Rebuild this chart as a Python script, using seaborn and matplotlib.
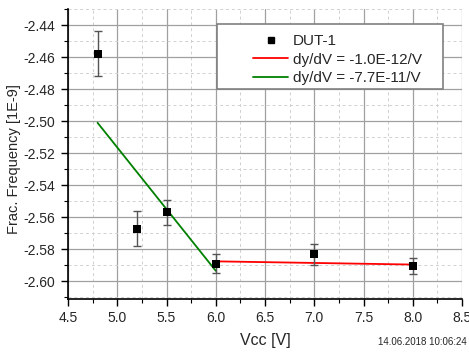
import numpy as np
import pandas as pd
import matplotlib
matplotlib.use("Agg")
import matplotlib.pyplot as plt
from matplotlib.ticker import MultipleLocator, FormatStrFormatter
from matplotlib.lines import Line2D
from matplotlib.patches import Rectangle
import seaborn as sns

# measured points
vcc = [4.8, 5.2, 5.5, 6.0, 7.0, 8.0]
frac_freq = [-2.458, -2.567, -2.557, -2.589, -2.583, -2.5905]
frac_err = [0.014, 0.0108, 0.0078, 0.006, 0.0066, 0.005]

# linear fits (end points)
fit_hi_x = [6.0, 8.0]
fit_hi_y = [-2.5875, -2.5895]
fit_lo_x = [4.8, 6.0]
fit_lo_y = [-2.501, -2.5934]

label_pts = "DUT-1"
label_hi = "dy/dV = -1.0E-12/V"
label_lo = "dy/dV = -7.7E-11/V"
timestamp = "14.06.2018 10:06:24"

sns.set_style("white")
plt.rcParams['font.family'] = ['Liberation Sans', 'DejaVu Sans']

W, H = 469, 352
fig = plt.figure(figsize=(W / 100, H / 100), dpi=100)
ax = fig.add_axes([68 / W, 1 - 299 / H, (462 - 68) / W, (299 - 9) / H])

df_pts = pd.DataFrame({"x": vcc, "y": frac_freq})
df_fit = pd.DataFrame({
    "x": fit_hi_x + fit_lo_x,
    "y": fit_hi_y + fit_lo_y,
    "fit": [label_hi] * 2 + [label_lo] * 2,
})

sns.lineplot(data=df_fit, x="x", y="y", hue="fit", palette={label_hi: "#ff0000", label_lo: "#008000"},
             lw=1.3, legend=False, ax=ax, zorder=3)
ax.errorbar(vcc, frac_freq, yerr=frac_err, fmt="none", ecolor="#555555", elinewidth=1.0,
            capsize=3, capthick=1.0, zorder=4)
sns.scatterplot(data=df_pts, x="x", y="y", marker="s", s=36, color="black", edgecolor="black",
                linewidth=0, ax=ax, zorder=5)

ax.set_xlim(4.5, 8.5)
ax.set_ylim(-2.611, -2.430)
ax.xaxis.set_major_locator(MultipleLocator(0.5))
ax.xaxis.set_minor_locator(MultipleLocator(0.25))
ax.yaxis.set_major_locator(MultipleLocator(0.02))
ax.yaxis.set_minor_locator(MultipleLocator(0.01))
ax.xaxis.set_major_formatter(FormatStrFormatter("%.1f"))
ax.yaxis.set_major_formatter(FormatStrFormatter("%.2f"))

ax.grid(which="major", color="#a0a0a0", lw=0.9)
ax.grid(which="minor", color="#d0d0d0", lw=0.7, ls=(0, (3, 3)))
ax.set_axisbelow(True)

for s in ["top", "right"]:
    ax.spines[s].set_visible(False)
for s in ["left", "bottom"]:
    ax.spines[s].set_color("black")
    ax.spines[s].set_linewidth(1.2)

ax.tick_params(which="major", direction="out", length=5, width=1.0, color="black",
               labelsize=10, left=True, bottom=True, pad=4)
ax.tick_params(which="minor", direction="out", length=3, width=0.8, color="black",
               left=True, bottom=True)

ax.set_xlabel("")
ax.set_ylabel("")
fig.text(265 / W, 1 - 340 / H, "Vcc [V]", ha="center", va="center", fontsize=11.5)
fig.text(14 / W, 1 - 159 / H, "Frac. Frequency [1E-9]", ha="center", va="center",
         rotation=90, fontsize=10.5)

# legend frame + entries
fig.patches.append(Rectangle((217 / W, 1 - 89 / H), (443 - 217) / W, (89 - 24) / H,
                             transform=fig.transFigure, facecolor="white", edgecolor="#808080",
                             lw=1.2, zorder=10))
handles = [
    Line2D([], [], ls="none", marker="s", color="black", markersize=5),
    Line2D([], [], color="#ff0000", lw=1.3),
    Line2D([], [], color="#008000", lw=1.3),
]
leg = fig.legend(handles, [label_pts, label_hi, label_lo], loc="upper left",
                 bbox_to_anchor=(253 / W, 1 - 34 / H), bbox_transform=fig.transFigure,
                 fontsize=11, frameon=False, handlelength=2.3, borderpad=0,
                 labelspacing=0.3, handletextpad=0.33, borderaxespad=0)
leg.set_zorder(11)

fig.text(467 / W, 1 - 342 / H, timestamp, ha="right", va="center", fontsize=7)

fig.savefig("out.png", dpi=100)
